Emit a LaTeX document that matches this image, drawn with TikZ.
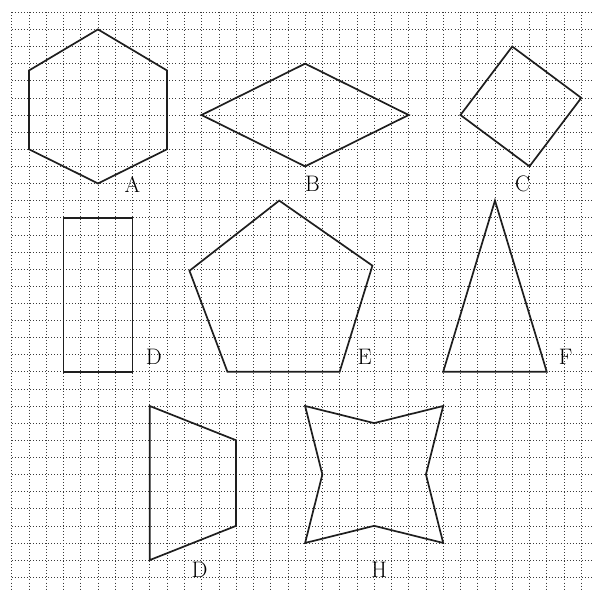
\documentclass[tikz,border=0pt]{standalone}
\usepackage{tikz}
\usetikzlibrary{positioning}
\definecolor{GridColor}{HTML}{3A3A3A}
\definecolor{ShapeColor}{HTML}{1E1E1E}
\definecolor{TextDark}{HTML}{000000}

\begin{document}
\begin{tikzpicture}[
        x=0.5cm, y=-0.4959cm,
        gridline/.style={GridColor, line width=0.5pt, dotted},
        figure/.style={draw=ShapeColor, line width=1.4pt, line join=miter},
        tag/.style={inner sep=0pt, font=\fontsize{18.5}{20}\selectfont, text=TextDark}
      ]
        \clip (-0.678,-0.718) rectangle (33.68,33.80);

        % squared paper
        \foreach \i in {0,...,34} {
          \draw[gridline] (\i,0) -- (\i,35);
          \draw[gridline] (0,\i) -- (35,\i);
        }

        % first row
        \draw[figure] (5,1) -- (9,3.4) -- (9,8) -- (5,10) -- (1,8) -- (1,3.4) -- cycle;
        \draw[figure] (11,6) -- (17,3) -- (23,6) -- (17,9) -- cycle;
        \draw[figure] (29,2) -- (33,5) -- (30,9) -- (26,6) -- cycle;
        \node[tag] (labA) at (7.0,10.05) {A};
        \node[tag] (labB) at (17.43,10.05) {B};
        \node[tag] (labC) at (29.6,10.05) {C};

        % second row
        \draw[figure] (3,12) rectangle (7,21);
        \draw[figure] (15.5,11) -- (20.9,14.8) -- (19,21) -- (12.5,21) -- (10.3,15.1) -- cycle;
        \draw[figure] (28,11) -- (31,21) -- (25,21) -- cycle;
        \node[tag] (labD) at (8.23,20.12) {D};
        \node[tag] (labE) at (20.45,20.12) {E};
        \node[tag] (labF) at (32.1,20.12) {F};

        % third row
        \draw[figure] (8,23) -- (13,25) -- (13,30) -- (8,32) -- cycle;
        \draw[figure] (17,23) -- (21,24) -- (25,23) -- (24,27) -- (25,31)
          -- (21,30) -- (17,31) -- (18,27) -- cycle;
        \node[tag] (labDD) at (10.89,32.56) {D};
        \node[tag] (labH) at (21.29,32.56) {H};
      \end{tikzpicture}
\end{document}
